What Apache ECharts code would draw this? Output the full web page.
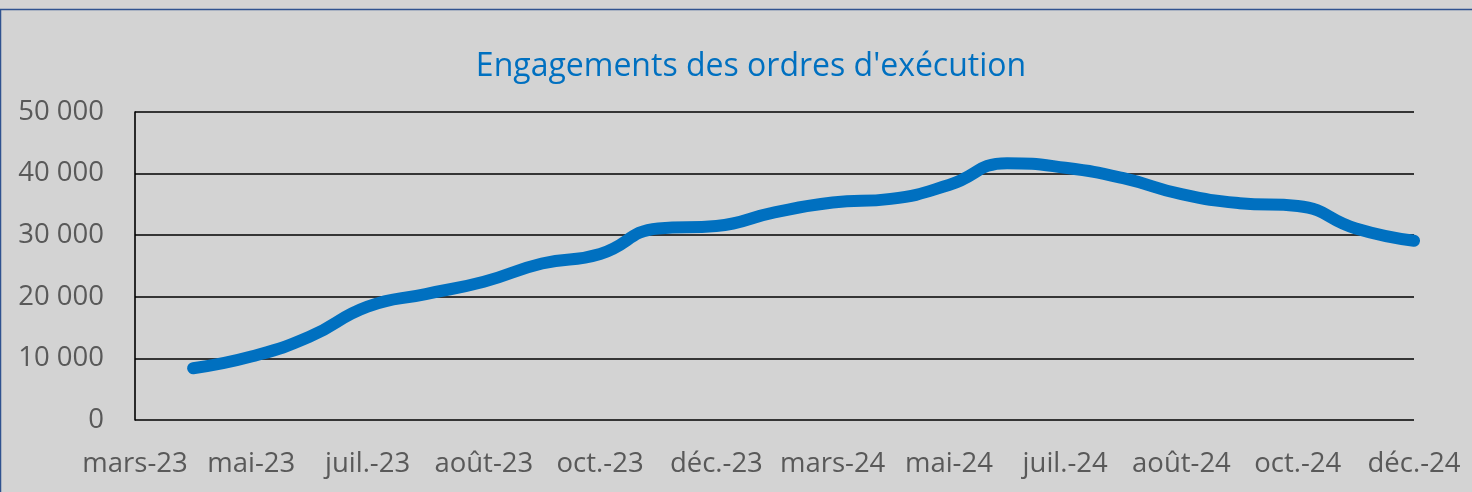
<!DOCTYPE html>
<html>
<head>
<meta charset="utf-8">
<title>Engagements des ordres d'exécution</title>
<script src="https://cdn.jsdelivr.net/npm/echarts@6/dist/echarts.min.js"></script>
</head>
<body style="margin:0;padding:0;background:#d3d3d3">
<div id="chart" style="width:1472px;height:492px;"></div>
<script type="text/javascript">
// categories of the x axis; only every second one gets a label
var categories = ['mars-23', 'avr.-23', 'mai-23', 'juin-23', 'juil.-23', 'juil.-23 ',
  'août-23', 'sept.-23', 'oct.-23', 'nov.-23', 'déc.-23', 'janv.-24',
  'mars-24', 'avr.-24', 'mai-24', 'juin-24', 'juil.-24', 'juil.-24 ',
  'août-24', 'sept.-24', 'oct.-24', 'nov.-24', 'déc.-24'];

// engagements; no value for the first category
var engagements = [null, 8400, 10300, 13500, 18400, 20450, 22450, 25400,
  26950, 31100, 31500, 33700, 35300, 35900, 38150, 41700,
  40950, 39250, 36650, 35200, 34750, 31100, 29100];

function fmtThousands(v) {
  return String(v).replace(/\B(?=(\d{3})+(?!\d))/g, ' ');
}

var myChart = echarts.init(document.getElementById('chart'));
var textFont = '"Open Sans", sans-serif';

var option = {
  backgroundColor: '#d3d3d3',
  animation: false,
  title: {
    text: "Engagements des ordres d'exécution",
    left: 746,
    top: 46,
    textAlign: 'center',
    textStyle: {
      color: '#0070c0',
      fontFamily: textFont,
      fontWeight: 'normal',
      fontSize: 32
    }
  },
  graphic: [{
    type: 'rect',
    silent: true,
    shape: { x: 0.5, y: 9.5, width: 1600, height: 600 },
    style: { fill: 'none', stroke: '#2f528f', lineWidth: 1.5 }
  }],
  grid: {
    left: 135,
    right: 58,
    top: 112,
    bottom: 72
  },
  xAxis: {
    type: 'category',
    data: categories,
    boundaryGap: false,
    axisLine: { show: false },
    axisTick: { show: false },
    splitLine: { show: false },
    axisLabel: {
      interval: 1,
      margin: 30,
      color: '#595959',
      fontFamily: textFont,
      fontSize: 27.5,
      formatter: function (v) { return v.trim(); }
    }
  },
  yAxis: {
    type: 'value',
    min: 0,
    max: 50000,
    interval: 10000,
    axisLine: { show: true, lineStyle: { color: '#000', width: 1.6 } },
    axisTick: { show: false },
    splitLine: { lineStyle: { color: '#000', width: 1.6 } },
    axisLabel: {
      margin: 31,
      color: '#595959',
      fontFamily: textFont,
      fontSize: 27.5,
      formatter: fmtThousands
    }
  },
  series: [{
    name: 'Engagements',
    type: 'line',
    data: engagements,
    smooth: 0.5,
    showSymbol: false,
    lineStyle: { color: '#0070c0', width: 12, cap: 'round', join: 'round' }
  }]
};

myChart.setOption(option);
</script>
</body>
</html>
